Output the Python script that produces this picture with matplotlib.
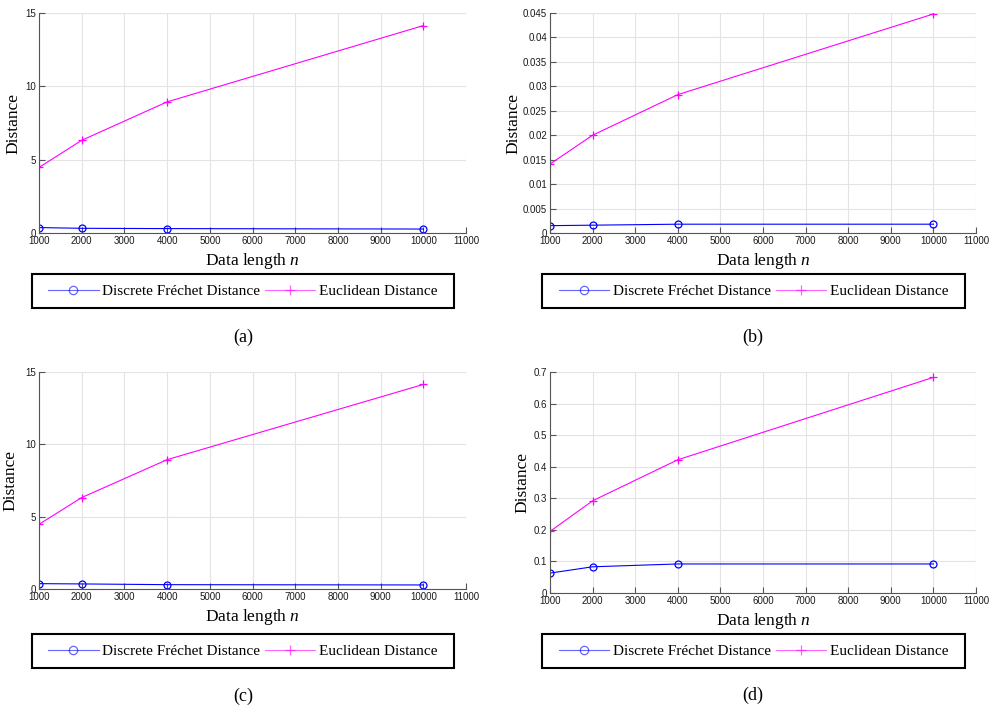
import matplotlib
matplotlib.use('Agg')
from matplotlib import pyplot as plt
from matplotlib.patches import Rectangle
from matplotlib.ticker import FuncFormatter

plt.rcParams['font.family'] = 'Liberation Sans'
plt.rcParams['mathtext.fontset'] = 'custom'
plt.rcParams['mathtext.rm'] = 'Liberation Serif'
plt.rcParams['mathtext.it'] = 'Liberation Serif:italic'

n_values = [1000, 2000, 4000, 10000]

frechet_a = [0.37, 0.32, 0.30, 0.27]
euclid_a = [4.47, 6.32, 8.94, 14.14]

frechet_b = [0.0015, 0.0016, 0.0018, 0.0018]
euclid_b = [0.0141, 0.0200, 0.0283, 0.0448]

frechet_c = [0.37, 0.35, 0.30, 0.28]
euclid_c = [4.47, 6.32, 8.94, 14.14]

frechet_d = [0.063, 0.083, 0.092, 0.092]
euclid_d = [0.195, 0.292, 0.422, 0.683]

series_names = ['Discrete Fréchet Distance', 'Euclidean Distance']

panels = [
    # data, y limit, y step, axes rect (px), legend box (px), caption pos (px), ylabel x
    (frechet_a, euclid_a, 15, 5, (39, 13, 466, 233), (32, 274, 454, 308), (243, 337), -0.040, '(a)'),
    (frechet_b, euclid_b, 0.045, 0.005, (550, 13, 976, 233), (542, 274, 965, 308), (753, 337), -0.068, '(b)'),
    (frechet_c, euclid_c, 15, 5, (39, 372, 466, 589), (32, 634, 454, 668), (243, 696), -0.047, '(c)'),
    (frechet_d, euclid_d, 0.7, 0.1, (550, 372, 976, 593), (542, 634, 965, 668), (753, 695), -0.045, '(d)'),
]

W, H = 991, 706
fig = plt.figure(figsize=(W / 100, H / 100), dpi=100)

serif = 'Liberation Serif'
spine_col = '#555555'

for fr, eu, ymax, ystep, rect, lbox, cap, ylx, tag in panels:
    x0, y0, x1, y1 = rect
    ax = fig.add_axes([x0 / W, 1 - y1 / H, (x1 - x0) / W, (y1 - y0) / H])
    l1, = ax.plot(n_values, fr, color='#0000ff', lw=0.8, marker='o', ms=5,
                  mfc='none', mec='#0000ff', mew=0.9)
    l2, = ax.plot(n_values, eu, color='#ff00ff', lw=0.8, marker='+', ms=6,
                  mew=0.9)
    ax.set_xlim(1000, 11000)
    ax.set_ylim(0, ymax)
    ax.set_xticks(range(1000, 11001, 1000))
    nt = int(round(ymax / ystep))
    ax.set_yticks([i * ystep for i in range(nt + 1)])
    ax.yaxis.set_major_formatter(FuncFormatter(lambda v, p: '%g' % round(v, 6)))
    ax.grid(True, color='#e3e3e3', lw=0.8)
    ax.set_axisbelow(True)
    for s in ['top', 'right']:
        ax.spines[s].set_visible(False)
    for s in ['left', 'bottom']:
        ax.spines[s].set_color(spine_col)
        ax.spines[s].set_linewidth(0.8)
    ax.tick_params(direction='in', length=4, width=0.8, color=spine_col,
                   labelsize=7, labelcolor='#1a1a1a', pad=2)
    ax.set_xlabel('Data length $n$', family=serif, fontsize=12.5, labelpad=4)
    ax.set_ylabel('Distance', family=serif, fontsize=12.5)
    ax.yaxis.set_label_coords(ylx, 0.5)

    # legend box drawn separately so its size is fixed
    lx0, ly0, lx1, ly1 = lbox
    fig.patches.append(Rectangle((lx0 / W, 1 - ly1 / H), (lx1 - lx0) / W, (ly1 - ly0) / H,
                                 transform=fig.transFigure, fill=False,
                                 edgecolor='black', lw=1.5))
    leg = fig.legend([l1, l2], series_names, loc='center', ncol=2,
                     bbox_to_anchor=((lx0 + lx1) / 2 / W, 1 - (ly0 + ly1) / 2 / H),
                     prop={'family': serif, 'size': 11}, frameon=False,
                     handlelength=3.3, handletextpad=0.25, columnspacing=0.3,
                     borderaxespad=0, markerscale=1.2)
    for h in leg.legend_handles:
        h.set_alpha(0.6)

    fig.text(cap[0] / W, 1 - cap[1] / H, tag, family=serif, fontsize=13,
             ha='center', va='center')

fig.savefig('out.png', dpi=100)
